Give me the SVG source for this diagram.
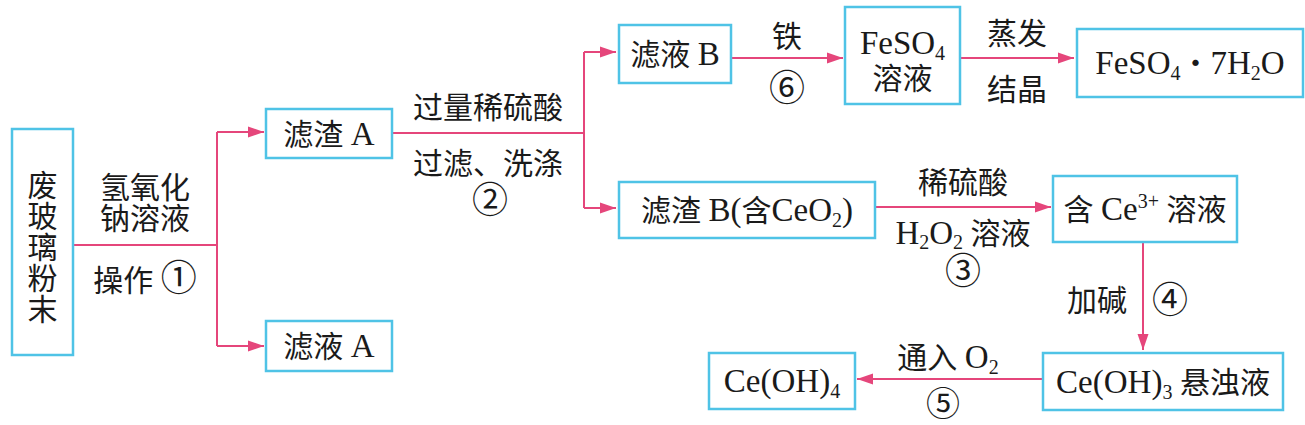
<svg xmlns="http://www.w3.org/2000/svg" width="1305" height="425" viewBox="0 0 1305 425">
<style>
.box{fill:#fff;stroke:#4fc3e6;stroke-width:2.5}
.t{font-family:"Liberation Serif","Noto Sans CJK SC",serif;font-size:30px;fill:#1a1a1a;text-anchor:middle}
.L{font-size:33px}
.s{font-size:20px}
.n{font-size:36px}
.c{fill:none;stroke:#e5467b;stroke-width:2}
</style>
<defs>
<marker id="ah" markerUnits="userSpaceOnUse" markerWidth="18" markerHeight="12" refX="16" refY="6" orient="auto">
<path d="M0,0.5 L16,6 L0,11.5 Z" fill="#e5467b"/>
</marker>
</defs>
<rect width="1305" height="425" fill="#fff"/>
<g id="connectors">
<polyline class="c" points="73,245 217,245"/>
<polyline class="c" points="217,132 217,346"/>
<path class="c" d="M217,132 L264,132" marker-end="url(#ah)"/>
<path class="c" d="M217,346 L264,346" marker-end="url(#ah)"/>
<polyline class="c" points="392,133 584,133"/>
<polyline class="c" points="584,52 584,208"/>
<path class="c" d="M584,52 L616,52" marker-end="url(#ah)"/>
<path class="c" d="M584,208 L616,208" marker-end="url(#ah)"/>
<path class="c" d="M731,58 L843,58" marker-end="url(#ah)"/>
<path class="c" d="M960,58 L1074,58" marker-end="url(#ah)"/>
<path class="c" d="M875,207 L1051,207" marker-end="url(#ah)"/>
<path class="c" d="M1143,242 L1143,350" marker-end="url(#ah)"/>
<path class="c" d="M1043,379 L857,379" marker-end="url(#ah)"/>
</g>
<g id="labels">
<text class="t" x="145" y="198">氢氧化</text>
<text class="t" x="145" y="229">钠溶液</text>
<text class="t" x="145" y="291">操作 <tspan class="n">①</tspan></text>
<text class="t" x="488" y="118">过量稀硫酸</text>
<text class="t" x="488" y="174">过滤、洗涤</text>
<text class="t n" x="490" y="213">②</text>
<text class="t" x="787" y="47">铁</text>
<text class="t n" x="787" y="101">⑥</text>
<text class="t" x="1017" y="44">蒸发</text>
<text class="t" x="1017" y="100">结晶</text>
<text class="t" x="963" y="193">稀硫酸</text>
<text class="t" x="963" y="244"><tspan class="L">H</tspan><tspan class="s" dy="5">2</tspan><tspan class="L" dy="-5">O</tspan><tspan class="s" dy="5">2</tspan><tspan dy="-5"> 溶液</tspan></text>
<text class="t n" x="963" y="284">③</text>
<text class="t" x="1097" y="311">加碱</text>
<text class="t n" x="1170" y="313">④</text>
<text class="t" x="948" y="368">通入 <tspan class="L">O</tspan><tspan class="s" dy="6">2</tspan></text>
<text class="t" x="943" y="416" style="font-size:34px">⑤</text>
</g>
<g id="n-powder">
<rect class="box" x="12" y="129" width="61" height="226"/>
<text class="t" x="42.5" y="196">废</text>
<text class="t" x="42.5" y="227">玻</text>
<text class="t" x="42.5" y="258">璃</text>
<text class="t" x="42.5" y="289">粉</text>
<text class="t" x="42.5" y="320">末</text>
</g>
<g id="n-residueA">
<rect class="box" x="266" y="109" width="126" height="49"/>
<text class="t" x="329" y="145">滤渣 <tspan class="L">A</tspan></text>
</g>
<g id="n-filtrateA">
<rect class="box" x="266" y="321" width="126" height="50"/>
<text class="t" x="329" y="357">滤液 <tspan class="L">A</tspan></text>
</g>
<g id="n-filtrateB">
<rect class="box" x="619" y="25" width="112" height="58"/>
<text class="t" x="675" y="65">滤液 <tspan class="L">B</tspan></text>
</g>
<g id="n-residueB">
<rect class="box" x="619" y="182" width="256" height="56"/>
<text class="t" x="747" y="221">滤渣 <tspan class="L">B(</tspan>含<tspan class="L">CeO</tspan><tspan class="s" dy="6">2</tspan><tspan class="L" dy="-6">)</tspan></text>
</g>
<g id="n-feso4">
<rect class="box" x="845" y="7" width="115" height="97"/>
<text class="t" x="902.5" y="54"><tspan class="L">FeSO</tspan><tspan class="s" dy="6">4</tspan></text>
<text class="t" x="902.5" y="89">溶液</text>
</g>
<g id="n-hydrate">
<rect class="box" x="1077" y="29" width="226" height="68"/>
<text class="t" x="1190" y="74"><tspan class="L">FeSO</tspan><tspan class="s" dy="6">4</tspan><tspan dy="-6">・</tspan><tspan class="L">7H</tspan><tspan class="s" dy="6">2</tspan><tspan class="L" dy="-6">O</tspan></text>
</g>
<g id="n-ce3">
<rect class="box" x="1053" y="176" width="184" height="66"/>
<text class="t" x="1145" y="220">含 <tspan class="L">Ce</tspan><tspan class="s" dy="-12">3+</tspan><tspan dy="12"> 溶液</tspan></text>
</g>
<g id="n-ceoh3">
<rect class="box" x="1043" y="353" width="240" height="57"/>
<text class="t" x="1163" y="393"><tspan class="L">Ce(OH)</tspan><tspan class="s" dy="6">3</tspan><tspan dy="-6"> 悬浊液</tspan></text>
</g>
<g id="n-ceoh4">
<rect class="box" x="709" y="353" width="146" height="56"/>
<text class="t" x="782" y="392"><tspan class="L">Ce(OH)</tspan><tspan class="s" dy="6">4</tspan></text>
</g>
</svg>
